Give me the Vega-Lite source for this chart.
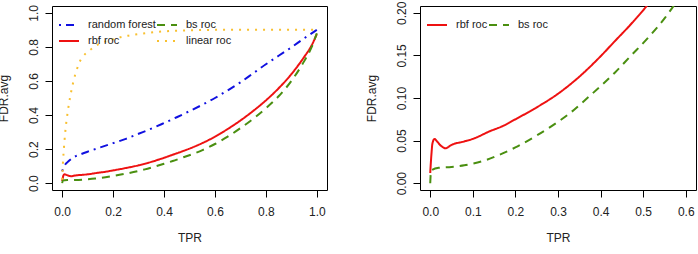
{
  "$schema": "https://vega.github.io/schema/vega-lite/v6.json",
  "autosize": {"type": "pad"},
  "padding": {"left": -4, "top": 0, "right": 4, "bottom": 8},
  "background": "white",
  "bounds": "flush",
  "spacing": 93,
  "config": {
    "font": "Liberation Sans",
    "view": {"stroke": "black", "strokeWidth": 1},
    "axis": {
      "domain": false, "grid": false, "tickColor": "black", "tickSize": 7, "tickWidth": 1,
      "labelColor": "#222", "labelFontSize": 12, "labelFont": "Liberation Sans",
      "titleColor": "#222", "titleFontSize": 12, "titleFontWeight": "normal", "titleFont": "Liberation Sans"
    },
    "axisX": {"labelBaseline": "alphabetic", "labelPadding": 18, "titleY": 51, "titleBaseline": "alphabetic", "labelFlush": false, "labelOverlap": false},
    "axisY": {"labelAngle": -90, "labelAlign": "center", "labelBaseline": "alphabetic", "labelPadding": 8, "titleX": -45, "titleY": 92, "titleAngle": -90, "titleBaseline": "alphabetic", "titleAlign": "center", "labelFlush": false, "labelOverlap": false},
    "legend": {
      "orient": "none", "legendX": 6, "legendY": 8, "columns": 2, "padding": 0, "rowPadding": -8, "columnPadding": -4,
      "symbolType": "stroke", "symbolSize": 400, "symbolStrokeWidth": 2, "labelFontSize": 11, "labelOffset": 8,
      "labelColor": "#222", "labelFont": "Liberation Sans", "title": null
    },
    "line": {"strokeWidth": 2, "clip": true}
  },
  "datasets": {
    "curves": [
      {"s": "random forest", "x": 0, "y": 0.07},
      {"s": "random forest", "x": 0.005, "y": 0.09},
      {"s": "random forest", "x": 0.01, "y": 0.105},
      {"s": "random forest", "x": 0.02, "y": 0.122},
      {"s": "random forest", "x": 0.04, "y": 0.148},
      {"s": "random forest", "x": 0.07, "y": 0.168},
      {"s": "random forest", "x": 0.1, "y": 0.185},
      {"s": "random forest", "x": 0.15, "y": 0.21},
      {"s": "random forest", "x": 0.2, "y": 0.235},
      {"s": "random forest", "x": 0.25, "y": 0.26},
      {"s": "random forest", "x": 0.3, "y": 0.29},
      {"s": "random forest", "x": 0.35, "y": 0.32},
      {"s": "random forest", "x": 0.4, "y": 0.353},
      {"s": "random forest", "x": 0.45, "y": 0.387},
      {"s": "random forest", "x": 0.5, "y": 0.423},
      {"s": "random forest", "x": 0.55, "y": 0.46},
      {"s": "random forest", "x": 0.6, "y": 0.5},
      {"s": "random forest", "x": 0.65, "y": 0.545},
      {"s": "random forest", "x": 0.7, "y": 0.592},
      {"s": "random forest", "x": 0.75, "y": 0.645},
      {"s": "random forest", "x": 0.8, "y": 0.698},
      {"s": "random forest", "x": 0.85, "y": 0.748},
      {"s": "random forest", "x": 0.9, "y": 0.797},
      {"s": "random forest", "x": 0.95, "y": 0.85},
      {"s": "random forest", "x": 1.0, "y": 0.9},
      {"s": "rbf roc", "x": 0, "y": 0.012},
      {"s": "rbf roc", "x": 0.003, "y": 0.035},
      {"s": "rbf roc", "x": 0.005, "y": 0.046},
      {"s": "rbf roc", "x": 0.01, "y": 0.052},
      {"s": "rbf roc", "x": 0.016, "y": 0.049},
      {"s": "rbf roc", "x": 0.025, "y": 0.044},
      {"s": "rbf roc", "x": 0.036, "y": 0.041},
      {"s": "rbf roc", "x": 0.05, "y": 0.045},
      {"s": "rbf roc", "x": 0.08, "y": 0.049},
      {"s": "rbf roc", "x": 0.1, "y": 0.052},
      {"s": "rbf roc", "x": 0.14, "y": 0.061},
      {"s": "rbf roc", "x": 0.17, "y": 0.067},
      {"s": "rbf roc", "x": 0.2, "y": 0.075},
      {"s": "rbf roc", "x": 0.25, "y": 0.089},
      {"s": "rbf roc", "x": 0.3, "y": 0.105},
      {"s": "rbf roc", "x": 0.35, "y": 0.125},
      {"s": "rbf roc", "x": 0.4, "y": 0.149},
      {"s": "rbf roc", "x": 0.434, "y": 0.167},
      {"s": "rbf roc", "x": 0.47, "y": 0.186},
      {"s": "rbf roc", "x": 0.505, "y": 0.206},
      {"s": "rbf roc", "x": 0.55, "y": 0.235},
      {"s": "rbf roc", "x": 0.6, "y": 0.273},
      {"s": "rbf roc", "x": 0.65, "y": 0.318},
      {"s": "rbf roc", "x": 0.7, "y": 0.368},
      {"s": "rbf roc", "x": 0.75, "y": 0.424},
      {"s": "rbf roc", "x": 0.8, "y": 0.486},
      {"s": "rbf roc", "x": 0.85, "y": 0.557},
      {"s": "rbf roc", "x": 0.9, "y": 0.64},
      {"s": "rbf roc", "x": 0.95, "y": 0.74},
      {"s": "rbf roc", "x": 0.98, "y": 0.81},
      {"s": "rbf roc", "x": 1.0, "y": 0.875},
      {"s": "bs roc", "x": 0, "y": 0.0},
      {"s": "bs roc", "x": 0.002, "y": 0.015},
      {"s": "bs roc", "x": 0.02, "y": 0.018},
      {"s": "bs roc", "x": 0.05, "y": 0.019},
      {"s": "bs roc", "x": 0.08, "y": 0.021},
      {"s": "bs roc", "x": 0.1, "y": 0.023},
      {"s": "bs roc", "x": 0.13, "y": 0.027},
      {"s": "bs roc", "x": 0.17, "y": 0.035},
      {"s": "bs roc", "x": 0.2, "y": 0.042},
      {"s": "bs roc", "x": 0.25, "y": 0.056},
      {"s": "bs roc", "x": 0.3, "y": 0.072},
      {"s": "bs roc", "x": 0.325, "y": 0.081},
      {"s": "bs roc", "x": 0.36, "y": 0.096},
      {"s": "bs roc", "x": 0.4, "y": 0.114},
      {"s": "bs roc", "x": 0.434, "y": 0.13},
      {"s": "bs roc", "x": 0.47, "y": 0.149},
      {"s": "bs roc", "x": 0.512, "y": 0.171},
      {"s": "bs roc", "x": 0.551, "y": 0.194},
      {"s": "bs roc", "x": 0.567, "y": 0.205},
      {"s": "bs roc", "x": 0.6, "y": 0.23},
      {"s": "bs roc", "x": 0.65, "y": 0.273},
      {"s": "bs roc", "x": 0.7, "y": 0.323},
      {"s": "bs roc", "x": 0.75, "y": 0.378},
      {"s": "bs roc", "x": 0.8, "y": 0.44},
      {"s": "bs roc", "x": 0.85, "y": 0.51},
      {"s": "bs roc", "x": 0.9, "y": 0.6},
      {"s": "bs roc", "x": 0.95, "y": 0.715},
      {"s": "bs roc", "x": 0.98, "y": 0.8},
      {"s": "bs roc", "x": 1.0, "y": 0.88},
      {"s": "linear roc", "x": 0, "y": 0.02},
      {"s": "linear roc", "x": 0.003, "y": 0.12},
      {"s": "linear roc", "x": 0.007, "y": 0.21},
      {"s": "linear roc", "x": 0.012, "y": 0.3},
      {"s": "linear roc", "x": 0.02, "y": 0.4},
      {"s": "linear roc", "x": 0.027, "y": 0.47},
      {"s": "linear roc", "x": 0.033, "y": 0.52},
      {"s": "linear roc", "x": 0.04, "y": 0.57},
      {"s": "linear roc", "x": 0.046, "y": 0.61},
      {"s": "linear roc", "x": 0.055, "y": 0.655},
      {"s": "linear roc", "x": 0.065, "y": 0.7},
      {"s": "linear roc", "x": 0.08, "y": 0.74},
      {"s": "linear roc", "x": 0.105, "y": 0.776},
      {"s": "linear roc", "x": 0.13, "y": 0.805},
      {"s": "linear roc", "x": 0.157, "y": 0.825},
      {"s": "linear roc", "x": 0.19, "y": 0.84},
      {"s": "linear roc", "x": 0.22, "y": 0.854},
      {"s": "linear roc", "x": 0.26, "y": 0.866},
      {"s": "linear roc", "x": 0.31, "y": 0.877},
      {"s": "linear roc", "x": 0.36, "y": 0.886},
      {"s": "linear roc", "x": 0.42, "y": 0.893},
      {"s": "linear roc", "x": 0.5, "y": 0.897},
      {"s": "linear roc", "x": 0.6, "y": 0.9},
      {"s": "linear roc", "x": 0.8, "y": 0.9},
      {"s": "linear roc", "x": 1.0, "y": 0.9}
    ]
  },
  "hconcat": [
    {
      "width": 275,
      "height": 184,
      "data": {"name": "curves"},
      "mark": {"type": "line", "clip": true, "interpolate": "monotone"},
      "encoding": {
        "x": {"field": "x", "type": "quantitative", "scale": {"domain": [-0.04, 1.04], "nice": false, "zero": false},
              "axis": {"title": "TPR", "values": [0, 0.2, 0.4, 0.6, 0.8, 1.0], "format": ".1f"}},
        "y": {"field": "y", "type": "quantitative", "scale": {"domain": [-0.04, 1.04], "nice": false, "zero": false},
              "axis": {"title": "FDR.avg", "values": [0, 0.2, 0.4, 0.6, 0.8, 1.0], "format": ".1f"}},
        "color": {"field": "s", "type": "nominal",
                  "scale": {"domain": ["random forest", "rbf roc", "bs roc", "linear roc"], "range": ["#1010e0", "#ee1111", "#4a8f10", "#f8c030"]},
                  "legend": {"title": null}},
        "strokeDash": {"field": "s", "type": "nominal",
                  "scale": {"domain": ["random forest", "rbf roc", "bs roc", "linear roc"], "range": [[2, 5, 8, 5], [1, 0], [8, 6], [2, 6]]},
                  "legend": {"title": null}},
        "strokeWidth": {"field": "s", "type": "nominal",
                  "scale": {"domain": ["random forest", "rbf roc", "bs roc", "linear roc"], "range": [2, 2, 2, 2.5]},
                  "legend": null}
      }
    },
    {
      "width": 276,
      "height": 184,
      "data": {"name": "curves"},
      "transform": [{"filter": {"field": "s", "oneOf": ["rbf roc", "bs roc"]}}],
      "mark": {"type": "line", "clip": true, "interpolate": "monotone"},
      "encoding": {
        "x": {"field": "x", "type": "quantitative", "scale": {"domain": [-0.024, 0.624], "nice": false, "zero": false},
              "axis": {"title": "TPR", "values": [0, 0.1, 0.2, 0.3, 0.4, 0.5, 0.6], "format": ".1f"}},
        "y": {"field": "y", "type": "quantitative", "scale": {"domain": [-0.008, 0.208], "nice": false, "zero": false},
              "axis": {"title": "FDR.avg", "values": [0, 0.05, 0.1, 0.15, 0.2], "format": ".2f"}},
        "color": {"field": "s", "type": "nominal",
                  "scale": {"domain": ["rbf roc", "bs roc"], "range": ["#ee1111", "#4a8f10"]},
                  "legend": {"title": null}},
        "strokeDash": {"field": "s", "type": "nominal",
                  "scale": {"domain": ["rbf roc", "bs roc"], "range": [[1, 0], [8, 6]]},
                  "legend": {"title": null}}
      }
    }
  ],
  "resolve": {
    "scale": {"x": "independent", "y": "independent", "color": "independent", "strokeDash": "independent", "strokeWidth": "independent"},
    "legend": {"color": "independent", "strokeDash": "independent", "strokeWidth": "independent"},
    "axis": {"x": "independent", "y": "independent"}
  }
}
